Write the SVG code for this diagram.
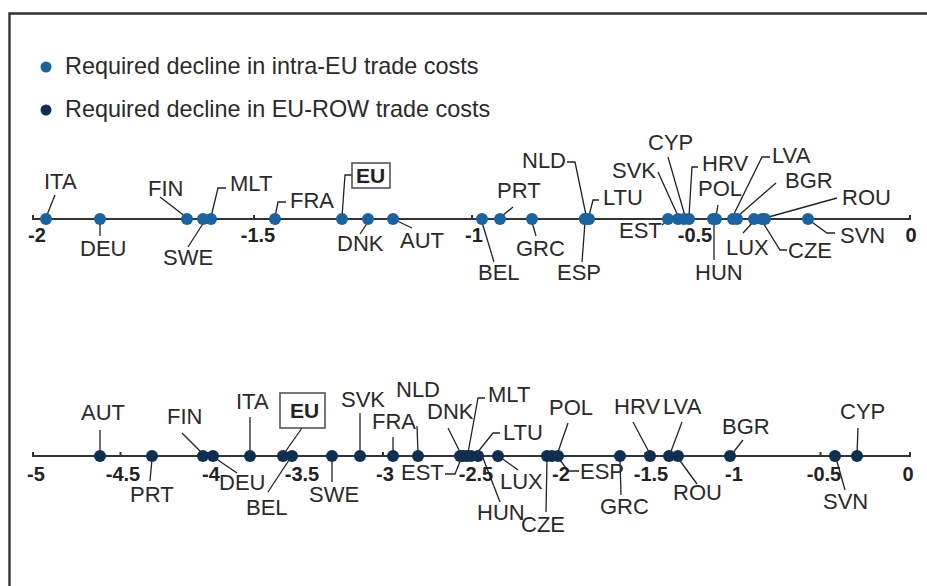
<svg xmlns="http://www.w3.org/2000/svg" width="927" height="586" viewBox="0 0 927 586">
<style>
.lbl{font-family:"Liberation Sans",Arial,sans-serif;font-size:22px;fill:#2a2a2a}
.lg{font-family:"Liberation Sans",Arial,sans-serif;font-size:23.4px;fill:#2a2a2a}
.tk{font-family:"Liberation Sans",Arial,sans-serif;font-size:20px;font-weight:bold;fill:#222;text-anchor:middle}
.eu{font-family:"Liberation Sans",Arial,sans-serif;font-size:21px;font-weight:bold;fill:#222}
.ld{stroke:#222;stroke-width:1.3;fill:none}
.ax{stroke:#333;stroke-width:2;fill:none}
.box{fill:#fff;stroke:#555;stroke-width:1.6}
.d1{fill:#1a62a0}
.d2{fill:#0e2f50}
</style>
<rect x="0" y="0" width="927" height="586" fill="#fff"/>
<path d="M9.5,600 V13.5 H940" stroke="#333" stroke-width="2.4" fill="none"/>
<g id="legend">
<circle class="d1" cx="46" cy="67" r="5.5"/>
<text class="lg" x="65" y="74">Required decline in intra-EU trade costs</text>
<circle class="d2" cx="46" cy="110" r="5.5"/>
<text class="lg" x="65" y="117">Required decline in EU-ROW trade costs</text>
</g>
<g id="axis-top">
<path class="ax" d="M33,215 V219 H910 V215 M254,215 V219 M472,215 V219 M690,215 V219"/>
<text class="tk" x="37" y="242">-2</text>
<text class="tk" x="258" y="242">-1.5</text>
<text class="tk" x="474" y="242">-1</text>
<text class="tk" x="695" y="242">-0.5</text>
<text class="tk" x="911" y="242">0</text>
</g>
<g id="axis-bottom">
<path class="ax" d="M33,452 V456 H910 V452 M120.5,452 V456 M208,452 V456 M295.5,452 V456 M383,452 V456 M470.5,452 V456 M558,452 V456 M645.5,452 V456 M733,452 V456 M820.5,452 V456"/>
<text class="tk" x="36" y="481">-5</text>
<text class="tk" x="123" y="481">-4.5</text>
<text class="tk" x="211" y="481">-4</text>
<text class="tk" x="302" y="481">-3.5</text>
<text class="tk" x="385" y="481">-3</text>
<text class="tk" x="476" y="481">-2.5</text>
<text class="tk" x="561" y="481">-2</text>
<text class="tk" x="651" y="481">-1.5</text>
<text class="tk" x="734" y="481">-1</text>
<text class="tk" x="824" y="481">-0.5</text>
<text class="tk" x="908" y="481">0</text>
</g>
<g id="connectors">
<path class="ld" d="M55,195 L47,215"/>
<path class="ld" d="M100,224 V236"/>
<path class="ld" d="M160,197 L186,217"/>
<path class="ld" d="M188,247 L204,222"/>
<path class="ld" d="M211,217 L218,188 H226"/>
<path class="ld" d="M275,217 L278,202 H286"/>
<path class="ld" d="M342,217 L345,175 H352"/>
<path class="ld" d="M368,222 L360,234"/>
<path class="ld" d="M393,219 L412,228"/>
<path class="ld" d="M482,222 L494,262"/>
<path class="ld" d="M502,216 L513,207"/>
<path class="ld" d="M532,222 L536,236"/>
<path class="ld" d="M567,162 H575 L586,215"/>
<path class="ld" d="M585,222 L582,262"/>
<path class="ld" d="M589,216 L593,200 H599"/>
<path class="ld" d="M662,225 L668,220"/>
<path class="ld" d="M658,172 L678,216"/>
<path class="ld" d="M668,157 L685,216"/>
<path class="ld" d="M689,216 L692,167 H698"/>
<path class="ld" d="M718,205 L716,216"/>
<path class="ld" d="M714,222 V260"/>
<path class="ld" d="M733,216 L762,157 H770"/>
<path class="ld" d="M776,183 L738,216"/>
<path class="ld" d="M754,221 L743,233"/>
<path class="ld" d="M762,221 L780,250 H787"/>
<path class="ld" d="M837,198 L765,218"/>
<path class="ld" d="M809,220 L827,233 H835"/>
<path class="ld" d="M100,430 V453"/>
<path class="ld" d="M152,459 L150,481"/>
<path class="ld" d="M182,433 L203,454"/>
<path class="ld" d="M212,456 L237,473"/>
<path class="ld" d="M250,417 V453"/>
<path class="ld" d="M302,428 L283,455"/>
<path class="ld" d="M268,492 L291,457"/>
<path class="ld" d="M332,459 V482"/>
<path class="ld" d="M360,413 V453"/>
<path class="ld" d="M393,437 V453"/>
<path class="ld" d="M417,426 L418,453"/>
<path class="ld" d="M448,428 L460,452"/>
<path class="ld" d="M485,398 H478 L468,453"/>
<path class="ld" d="M500,433 H493 L477,453"/>
<path class="ld" d="M445,474 H455 L461,459"/>
<path class="ld" d="M500,502 L483,458"/>
<path class="ld" d="M500,457 L518,470"/>
<path class="ld" d="M547,459 L546,512"/>
<path class="ld" d="M568,423 L558,452"/>
<path class="ld" d="M579,471 H568 L560,460"/>
<path class="ld" d="M620,459 L621,495"/>
<path class="ld" d="M633,422 L650,454"/>
<path class="ld" d="M682,422 L670,454"/>
<path class="ld" d="M697,484 L678,458"/>
<path class="ld" d="M743,440 L732,454"/>
<path class="ld" d="M836,458 L845,490"/>
<path class="ld" d="M858,428 L857,454"/>
</g>
<g id="top-points">
<g id="t-ITA"><circle class="d1" cx="46" cy="219" r="6"/><text class="lbl" x="44" y="189">ITA</text></g>
<g id="t-DEU"><circle class="d1" cx="100" cy="219" r="6"/><text class="lbl" x="80" y="256">DEU</text></g>
<g id="t-FIN"><circle class="d1" cx="187" cy="219" r="6"/><text class="lbl" x="148" y="196">FIN</text></g>
<g id="t-SWE"><circle class="d1" cx="203" cy="219" r="6"/><text class="lbl" x="163" y="265">SWE</text></g>
<g id="t-MLT"><circle class="d1" cx="211" cy="219" r="6"/><text class="lbl" x="230" y="191">MLT</text></g>
<g id="t-FRA"><circle class="d1" cx="275" cy="219" r="6"/><text class="lbl" x="290" y="208">FRA</text></g>
<g id="t-EU"><circle class="d1" cx="342" cy="219" r="6"/><rect class="box" x="352" y="163" width="38" height="25"/><text class="eu" x="356" y="183">EU</text></g>
<g id="t-DNK"><circle class="d1" cx="368" cy="219" r="6"/><text class="lbl" x="337" y="251">DNK</text></g>
<g id="t-AUT"><circle class="d1" cx="393" cy="219" r="6"/><text class="lbl" x="400" y="248">AUT</text></g>
<g id="t-BEL"><circle class="d1" cx="482" cy="219" r="6"/><text class="lbl" x="478" y="280">BEL</text></g>
<g id="t-PRT"><circle class="d1" cx="500" cy="219" r="6"/><text class="lbl" x="497" y="198">PRT</text></g>
<g id="t-GRC"><circle class="d1" cx="532" cy="219" r="6"/><text class="lbl" x="516" y="256">GRC</text></g>
<g id="t-NLD"><circle class="d1" cx="585" cy="219" r="6"/><text class="lbl" x="522" y="168">NLD</text></g>
<g id="t-ESP"><circle class="d1" cx="585" cy="219" r="6"/><text class="lbl" x="557" y="280">ESP</text></g>
<g id="t-LTU"><circle class="d1" cx="589" cy="219" r="6"/><text class="lbl" x="603" y="205">LTU</text></g>
<g id="t-EST"><circle class="d1" cx="668" cy="219" r="6"/><text class="lbl" x="619" y="238">EST</text></g>
<g id="t-SVK"><circle class="d1" cx="678" cy="219" r="6"/><text class="lbl" x="612" y="178">SVK</text></g>
<g id="t-CYP"><circle class="d1" cx="684" cy="219" r="6"/><text class="lbl" x="648" y="150">CYP</text></g>
<g id="t-HRV"><circle class="d1" cx="689" cy="219" r="6"/><text class="lbl" x="702" y="171">HRV</text></g>
<g id="t-HUN"><circle class="d1" cx="713" cy="219" r="6"/><text class="lbl" x="695" y="280">HUN</text></g>
<g id="t-POL"><circle class="d1" cx="716" cy="219" r="6"/><text class="lbl" x="698" y="196">POL</text></g>
<g id="t-LVA"><circle class="d1" cx="733" cy="219" r="6"/><text class="lbl" x="772" y="163">LVA</text></g>
<g id="t-BGR"><circle class="d1" cx="737" cy="219" r="6"/><text class="lbl" x="785" y="188">BGR</text></g>
<g id="t-LUX"><circle class="d1" cx="754" cy="219" r="6"/><text class="lbl" x="726" y="255">LUX</text></g>
<g id="t-CZE"><circle class="d1" cx="762" cy="219" r="6"/><text class="lbl" x="788" y="258">CZE</text></g>
<g id="t-ROU"><circle class="d1" cx="765" cy="219" r="6"/><text class="lbl" x="842" y="205">ROU</text></g>
<g id="t-SVN"><circle class="d1" cx="808" cy="219" r="6"/><text class="lbl" x="840" y="243">SVN</text></g>
</g>
<g id="bottom-points">
<g id="b-AUT"><circle class="d2" cx="100" cy="456" r="6"/><text class="lbl" x="81" y="420">AUT</text></g>
<g id="b-PRT"><circle class="d2" cx="152" cy="456" r="6"/><text class="lbl" x="130" y="502">PRT</text></g>
<g id="b-FIN"><circle class="d2" cx="203" cy="456" r="6"/><text class="lbl" x="167" y="424">FIN</text></g>
<g id="b-DEU"><circle class="d2" cx="213" cy="456" r="6"/><text class="lbl" x="219" y="490">DEU</text></g>
<g id="b-ITA"><circle class="d2" cx="250" cy="456" r="6"/><text class="lbl" x="236" y="409">ITA</text></g>
<g id="b-EU"><circle class="d2" cx="283" cy="456" r="6"/><rect class="box" x="280" y="393" width="45" height="35"/><text class="eu" x="290" y="418">EU</text></g>
<g id="b-BEL"><circle class="d2" cx="292" cy="456" r="6"/><text class="lbl" x="246" y="515">BEL</text></g>
<g id="b-SWE"><circle class="d2" cx="332" cy="456" r="6"/><text class="lbl" x="309" y="502">SWE</text></g>
<g id="b-SVK"><circle class="d2" cx="360" cy="456" r="6"/><text class="lbl" x="341" y="407">SVK</text></g>
<g id="b-FRA"><circle class="d2" cx="393" cy="456" r="6"/><text class="lbl" x="372" y="429">FRA</text></g>
<g id="b-NLD"><circle class="d2" cx="418" cy="456" r="6"/><text class="lbl" x="396" y="397">NLD</text></g>
<g id="b-DNK"><circle class="d2" cx="460" cy="456" r="6"/><text class="lbl" x="427" y="419">DNK</text></g>
<g id="b-EST"><circle class="d2" cx="463" cy="456" r="6"/><text class="lbl" x="401" y="480">EST</text></g>
<g id="b-MLT"><circle class="d2" cx="467" cy="456" r="6"/><text class="lbl" x="488" y="402">MLT</text></g>
<g id="b-HUN"><circle class="d2" cx="471" cy="456" r="6"/><text class="lbl" x="477" y="520">HUN</text></g>
<g id="b-LTU"><circle class="d2" cx="478" cy="456" r="6"/><text class="lbl" x="503" y="440">LTU</text></g>
<g id="b-LUX"><circle class="d2" cx="498" cy="456" r="6"/><text class="lbl" x="500" y="489">LUX</text></g>
<g id="b-CZE"><circle class="d2" cx="547" cy="456" r="6"/><text class="lbl" x="521" y="532">CZE</text></g>
<g id="b-ESP"><circle class="d2" cx="552" cy="456" r="6"/><text class="lbl" x="580" y="479">ESP</text></g>
<g id="b-POL"><circle class="d2" cx="558" cy="456" r="6"/><text class="lbl" x="549" y="415">POL</text></g>
<g id="b-GRC"><circle class="d2" cx="620" cy="456" r="6"/><text class="lbl" x="600" y="514">GRC</text></g>
<g id="b-HRV"><circle class="d2" cx="650" cy="456" r="6"/><text class="lbl" x="614" y="414">HRV</text></g>
<g id="b-LVA"><circle class="d2" cx="669" cy="456" r="6"/><text class="lbl" x="663" y="414">LVA</text></g>
<g id="b-ROU"><circle class="d2" cx="678" cy="456" r="6"/><text class="lbl" x="673" y="500">ROU</text></g>
<g id="b-BGR"><circle class="d2" cx="730" cy="456" r="6"/><text class="lbl" x="722" y="434">BGR</text></g>
<g id="b-SVN"><circle class="d2" cx="835" cy="456" r="6"/><text class="lbl" x="823" y="509">SVN</text></g>
<g id="b-CYP"><circle class="d2" cx="857" cy="456" r="6"/><text class="lbl" x="840" y="419">CYP</text></g>
</g>
</svg>
